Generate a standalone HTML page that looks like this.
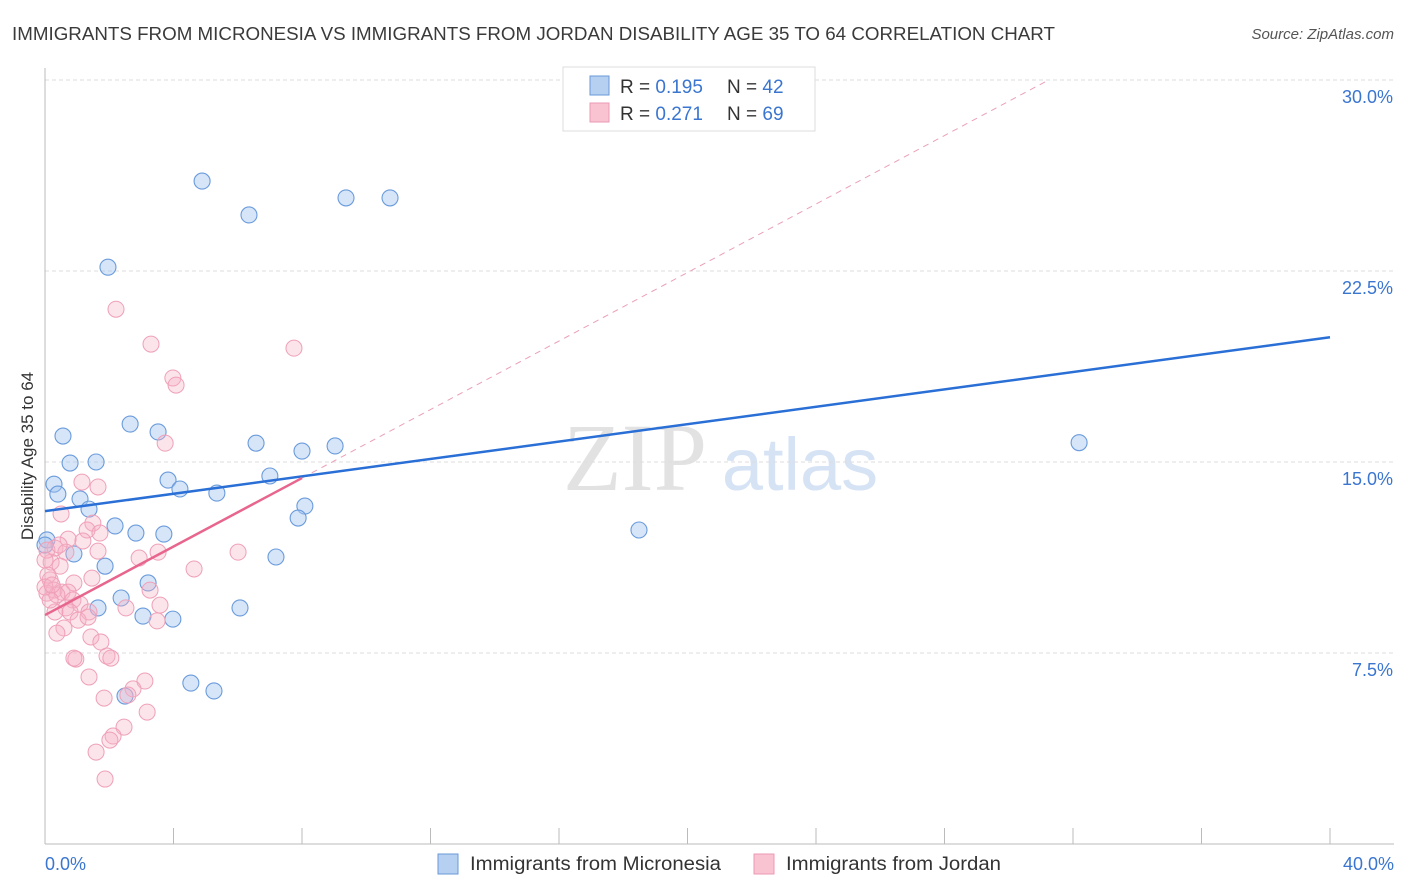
<!DOCTYPE html>
<html><head><meta charset="utf-8"><style>
body{margin:0;background:#fff;font-family:"Liberation Sans",sans-serif;}
svg{display:block}
</style></head><body>
<svg id="c" width="1406" height="892">
<text x="12" y="40" font-size="18" fill="#3a3a3a" textLength="1043" lengthAdjust="spacingAndGlyphs">IMMIGRANTS FROM MICRONESIA VS IMMIGRANTS FROM JORDAN DISABILITY AGE 35 TO 64 CORRELATION CHART</text>
<text x="1394" y="39" font-size="15" fill="#555" font-style="italic" text-anchor="end">Source: ZipAtlas.com</text>
<g>
<text x="635" y="490" font-size="96" font-family="Liberation Serif,serif" fill="#e2e2e2" text-anchor="middle">ZIP</text>
<text x="800" y="490" font-size="74" fill="#d6e3f5" text-anchor="middle">atlas</text>
</g>
<g id="grid"></g><g id="axes"></g><g id="pts"></g><g id="trend"></g>
<text x="33" y="456" font-size="17" fill="#333" text-anchor="middle" transform="rotate(-90 33 456)">Disability Age 35 to 64</text>
<text x="45" y="870" font-size="18" fill="#3a75d0">0.0%</text>
<text x="1394" y="870" font-size="18" fill="#3a75d0" text-anchor="end">40.0%</text>
<g>
<rect x="563" y="67" width="252" height="64" fill="#fff" stroke="#ddd"/>
<rect x="590" y="76" width="19" height="19" fill="#b5d0f0" stroke="#6a9ad8"/>
<rect x="590" y="103" width="19" height="19" fill="#f9c3d2" stroke="#ec9ab4"/>
<text x="620" y="93" font-size="19" fill="#333">R = <tspan fill="#3a75d0">0.195</tspan></text>
<text x="727" y="93" font-size="19" fill="#333">N = <tspan fill="#3a75d0">42</tspan></text>
<text x="620" y="120" font-size="19" fill="#333">R = <tspan fill="#3a75d0">0.271</tspan></text>
<text x="727" y="120" font-size="19" fill="#333">N = <tspan fill="#3a75d0">69</tspan></text>
</g>
<g>
<rect x="438" y="854" width="20" height="20" fill="#b5d0f0" stroke="#6a9ad8"/>
<text x="470" y="870" font-size="19" fill="#333" textLength="251" lengthAdjust="spacingAndGlyphs">Immigrants from Micronesia</text>
<rect x="754" y="854" width="20" height="20" fill="#f9c3d2" stroke="#ec9ab4"/>
<text x="786" y="870" font-size="19" fill="#333" textLength="215" lengthAdjust="spacingAndGlyphs">Immigrants from Jordan</text>
</g>
</svg>
<script>
const yTicks=[7.5,15,22.5,30];
const yTickLabels=["7.5%","15.0%","22.5%","30.0%"];
const xTicks=[0,4,8,12,16,20,24,28,32,36,40];
const blueX=[4.89,6.35,9.37,10.74,1.96,32.19,18.49,0.56,2.65,3.52,6.57,8.00,9.03,0.78,1.59,0.28,0.40,1.09,1.37,3.83,4.20,5.35,7.00,8.09,7.88,2.18,2.83,3.70,0.06,0.90,7.19,1.87,3.21,2.37,1.65,6.07,3.05,3.98,4.54,5.26,2.49,0.0];
const blueY=[26.03,24.70,25.37,25.37,22.65,15.76,12.33,16.02,16.49,16.18,15.74,15.43,15.63,14.96,15.00,14.13,13.74,13.55,13.15,14.29,13.94,13.78,14.45,13.27,12.80,12.49,12.21,12.17,11.94,11.39,11.27,10.91,10.25,9.66,9.27,9.27,8.95,8.83,6.32,6.01,5.81,11.74];
const pinkX=[2.21,3.30,7.75,3.98,4.08,3.74,1.15,1.65,0.50,1.49,1.31,1.71,0.72,1.18,0.31,0.65,1.65,2.93,3.52,6.01,4.64,0.19,0.47,1.46,0.90,0.16,0.28,0.06,0.53,0.72,0.37,0.87,1.09,0.65,1.37,2.52,3.58,3.27,0.31,0.78,1.03,1.34,0.59,0.37,1.43,1.74,3.49,1.93,0.96,0.90,2.05,1.37,3.11,2.74,1.84,2.58,3.18,2.46,2.12,2.02,1.59,1.87,0.06,0.0,0.09,0.16,0.44,0.0,0.22];
const pinkY=[21.00,19.63,19.47,18.30,18.02,15.74,14.21,14.02,12.96,12.60,12.33,12.21,11.97,11.90,11.62,11.46,11.50,11.23,11.46,11.46,10.80,11.07,10.91,10.44,10.25,10.37,9.97,9.85,9.89,9.89,9.78,9.58,9.42,9.27,9.11,9.27,9.38,9.97,9.11,9.11,8.79,8.91,8.48,8.28,8.13,7.93,8.76,7.38,7.26,7.30,7.30,6.56,6.40,6.09,5.73,5.85,5.18,4.59,4.24,4.08,3.61,2.55,11.54,11.15,10.56,9.58,11.74,10.09,10.17];
const blueTrend=[13.07,19.9];
const pinkTrend=[8.99,14.37];
const pinkTrendEnd=8;
const NS="http://www.w3.org/2000/svg";
const X=v=>45+v*(1285/40), Y=v=>844-v*(191/7.5);
function mk(t,a,p){const e=document.createElementNS(NS,t);for(const k in a)e.setAttribute(k,a[k]);document.getElementById(p).appendChild(e);return e;}
yTicks.forEach((t,i)=>{
 const l=mk('line',{x1:45,x2:1394,y1:Y(t),y2:Y(t),stroke:'#ddd','stroke-dasharray':'4 3'},'grid');
 
 
 const tx=mk('text',{x:1393,y:Y(t)+23,'font-size':18,fill:'#3a75d0','text-anchor':'end'},'grid');
 tx.textContent=yTickLabels[i];
 
 
});
const ya=mk('line',{x1:45,x2:45,y1:68,y2:844,stroke:'#bbb'},'axes');


const xa=mk('line',{x1:45,x2:1394,y1:844,y2:844,stroke:'#bbb'},'axes');


xTicks.forEach(t=>{
 const l=mk('line',{x1:X(t),x2:X(t),y1:828,y2:844,stroke:'#bbb'},'axes');
 
 
});
blueX.forEach((v,i)=>{
 const c=mk('circle',{cx:X(v),cy:Y(blueY[i]),r:8,fill:'rgba(165,198,240,0.45)',stroke:'#6a9bdc','stroke-width':1.1},'pts');
 
 
});
pinkX.forEach((v,i)=>{
 const c=mk('circle',{cx:X(v),cy:Y(pinkY[i]),r:8,fill:'rgba(247,177,198,0.35)',stroke:'#efa0b8','stroke-width':1},'pts');
 
 
});
const slope=(pinkTrend[1]-pinkTrend[0])/pinkTrendEnd;
const xEnd=(30-pinkTrend[0])/slope;
const d=mk('line',{x1:X(pinkTrendEnd),y1:Y(pinkTrend[1]),x2:X(xEnd),y2:Y(30),stroke:'#eaa0b6','stroke-dasharray':'6 5'},'trend');


const b=mk('line',{x1:X(0),y1:Y(blueTrend[0]),x2:X(40),y2:Y(blueTrend[1]),stroke:'#2a6fd6','stroke-width':2.5},'trend');


const p=mk('line',{x1:X(0),y1:Y(pinkTrend[0]),x2:X(pinkTrendEnd),y2:Y(pinkTrend[1]),stroke:'#e8668e','stroke-width':2.5},'trend');


</script>
</body></html>
